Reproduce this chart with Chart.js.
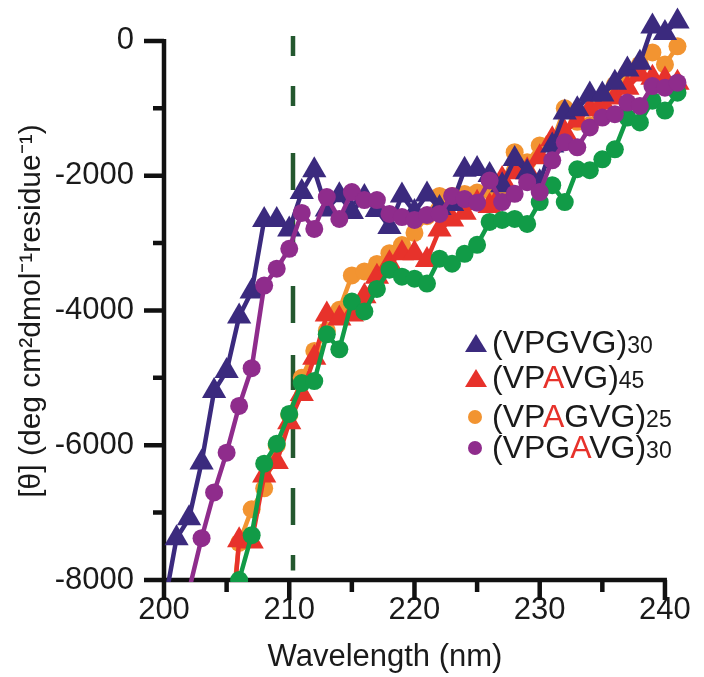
<!DOCTYPE html>
<html>
<head>
<meta charset="utf-8">
<script src="https://cdn.jsdelivr.net/npm/chart.js@4.4.1/dist/chart.umd.min.js"></script>
<style>
  body { margin: 0; background: #fff; }
  #wrap { position: relative; width: 704px; height: 677px; }
  #legend .row { position: absolute; font-family: 'Liberation Sans', Arial, sans-serif; font-size: 32px; line-height: 32px; color: #1a1a1a; white-space: nowrap; }
  #legend .row small { font-size: 23px; }
  #legend .hl { color: #e7322b; }
  #legend .tri { position: absolute; width: 0; height: 0; border-left: 11px solid transparent; border-right: 11px solid transparent; border-bottom: 18px solid; }
  #legend .dot { position: absolute; width: 14px; height: 14px; border-radius: 50%; }
</style>
</head>
<body>
<div id="wrap">
  <canvas id="cd" width="704" height="677"></canvas>
  <div id="legend"></div>
</div>
<script>
// wavelength grid (nm), one reading per nm
const wavelengths = [200, 201, 202, 203, 204, 205, 206, 207, 208, 209, 210,
  211, 212, 213, 214, 215, 216, 217, 218, 219, 220,
  221, 222, 223, 224, 225, 226, 227, 228, 229, 230,
  231, 232, 233, 234, 235, 236, 237, 238, 239, 240, 241];

// mean residue ellipticity (null = not shown)
const vpgvg30 = [-8400, -7380, -7085, -6258, -5196, -4900, -4089, -3720, -2657, -2657, -2800,
  -2243, -1920, -2500, -2290, -2540, -2317, -2510, -2760, -2292, -2540,
  -2280, -2480, -2420, -1910, -1900, -1990, -2140, -1752, -1948, -2096,
  -1550, -1063, -1014, -793, -793, -620, -423, -325, 216, 118, 290];
const vpavg45 = [null, null, null, null, null, -9550, -7410, -7430, -6450, -6250, -5660,
  -5240, -4700, -4060, -4120, -4060, -3790, -3500, -3300, -3150, -3150,
  -3250, -2800, -2650, -2550, -2400, -2450, -2050, -1950, -1920, -1727,
  -1457, -1358, -1180, -1013, -915, -841, -694, -497, -546, -571, -620];
const vpagvg25 = [null, null, null, null, null, -9200, -7450, -6950, -6640, -6000, -5550,
  -5000, -4600, -4300, -3990, -3480, -3420, -3310, -3150, -3030, -2850,
  -2600, -2300, -2300, -2270, -2250, -2220, -2150, -1650, -1800, -1550,
  -1500, -1000, -1200, -1250, -900, -650, -480, -350, -170, -350, -80];
const vpgavg30 = [null, null, -8150, -7380, -6700, -6110, -5417, -4856, -3631, -3380, -3085,
  -2553, -2790, -2317, -2642, -2243, -2362, -2362, -2568, -2613, -2657,
  -2583, -2568, -2300, -2347, -2400, -2070, -2391, -2268, -2096, -2243,
  -1771, -1505, -1579, -1284, -1137, -1087, -915, -964, -669, -694, -620];
// fifth trace (green) has no legend entry in the figure
const greenTrace = [null, null, null, null, null, null, -8000, -7335, -6273, -5978, -5535,
  -5077, -5048, -4354, -4576, -3867, -4015, -3680, -3395, -3498, -3528,
  -3601, -3232, -3306, -3159, -3026, -2686, -2657, -2642, -2716, -2391,
  -2140, -2391, -1904, -1919, -1756, -1609, -1137, -1210, -886, -1033, -768];

const markerNm = 210.3;  // dashed vertical line

const xTickLabels = [200, 210, 220, 230, 240];
const xMinorTicks = [205, 215, 225, 235];
const yTickLabels = [0, -2000, -4000, -6000, -8000];
const yMinorTicks = [-1000, -3000, -5000, -7000];

const legendNames = ['(VPGVG)', '(VPAVG)', '(VPAGVG)', '(VPGAVG)'];
const legendRepeats = ['30', '45', '25', '30'];
const legendRedLetter = [-1, 3, 3, 4];

const BLUE = '#3b2a7e', RED = '#e7322b', ORANGE = '#f29431', PURPLE = '#8f2c8c', GREEN = '#119b47';
const FONT = "'Liberation Sans', Arial, sans-serif";

function series(values) {
    return wavelengths.map((w, i) => ({ x: w, y: values[i] })).filter(p => p.y !== null);
}

function line(label, values, color, style, order) {
    return {
        label: label,
        data: series(values),
        borderColor: color,
        backgroundColor: color,
        borderWidth: 4.5,
        pointStyle: style,
        pointRadius: style === 'triangle' ? 14 : 9,
        pointBorderWidth: 0,
        tension: 0,
        order: order,
        clip: { left: 20, top: 20, right: 10, bottom: 2 }
    };
}

// axis lines, tick marks, dashed marker line and axis titles
const framePlugin = {
    id: 'frame',
    beforeDatasetsDraw(chart) {
        const ctx = chart.ctx;
        const x = chart.scales.x, y = chart.scales.y;
        ctx.save();

        const xd = x.getPixelForValue(markerNm);
        ctx.strokeStyle = '#24582f';
        ctx.lineWidth = 4.5;
        ctx.setLineDash([20, 30, 20, 47, 37, 30, 36, 30, 37, 32, 35, 33, 35, 30, 37, 30, 18]);
        ctx.beginPath();
        ctx.moveTo(xd, y.getPixelForValue(75));
        ctx.lineTo(xd, y.getPixelForValue(-7860));
        ctx.stroke();
        ctx.setLineDash([]);

        const x0 = x.getPixelForValue(200), x1 = x.getPixelForValue(240);
        const y0 = y.getPixelForValue(0), y1 = y.getPixelForValue(-8000);
        ctx.strokeStyle = '#111';
        ctx.lineWidth = 4.5;
        ctx.beginPath();
        ctx.moveTo(x0, y0 - 2); ctx.lineTo(x0, y1 + 2);
        ctx.moveTo(x0 - 2, y1); ctx.lineTo(x1 + 2, y1);
        yTickLabels.forEach(v => { const p = y.getPixelForValue(v); ctx.moveTo(x0, p); ctx.lineTo(x0 - 20, p); });
        yMinorTicks.forEach(v => { const p = y.getPixelForValue(v); ctx.moveTo(x0, p); ctx.lineTo(x0 - 11, p); });
        xTickLabels.forEach(v => { const p = x.getPixelForValue(v); ctx.moveTo(p, y1); ctx.lineTo(p, y1 + 20); });
        xMinorTicks.forEach(v => { const p = x.getPixelForValue(v); ctx.moveTo(p, y1); ctx.lineTo(p, y1 + 12); });
        ctx.stroke();
        ctx.restore();
    },
    afterDraw(chart) {
        const ctx = chart.ctx;
        ctx.save();
        ctx.fillStyle = '#1a1a1a';
        ctx.textAlign = 'center';
        ctx.textBaseline = 'middle';
        ctx.font = '31px ' + FONT;
        ctx.fillText('Wavelength (nm)', 385, 657);
        ctx.translate(32, 311);
        ctx.rotate(-Math.PI / 2);
        ctx.font = '30px ' + FONT;
        ctx.fillText('[\u03b8] (deg cm\u00b2dmol\u207b\u00b9residue\u207b\u00b9)', 0, 0);
        ctx.restore();
    }
};

new Chart(document.getElementById('cd'), {
    type: 'line',
    data: {
        datasets: [
            line('(VPGVG)30', vpgvg30, BLUE, 'triangle', 3),
            line('(VPAVG)45', vpavg45, RED, 'triangle', 4),
            line('(VPAGVG)25', vpagvg25, ORANGE, 'circle', 5),
            line('(VPGAVG)30', vpgavg30, PURPLE, 'circle', 1),
            line('', greenTrace, GREEN, 'circle', 2)
        ]
    },
    options: {
        responsive: false,
        animation: false,
        devicePixelRatio: 1,
        layout: { padding: { top: 11, right: 4, left: 0, bottom: 0 } },
        plugins: { legend: { display: false }, tooltip: { enabled: false } },
        scales: {
            x: {
                type: 'linear',
                min: 200,
                max: 242,
                grid: { display: false, drawTicks: false },
                border: { display: false },
                ticks: { font: { family: FONT, size: 31 }, color: '#1a1a1a', padding: 12, maxRotation: 0, autoSkip: false, callback: v => String(v) },
                afterBuildTicks: s => { s.ticks = xTickLabels.map(v => ({ value: v })); },
                afterFit: s => { s.height = 97; s.paddingLeft = 0; s.paddingRight = 0; }
            },
            y: {
                min: -8000,
                max: 400,
                grid: { display: false, drawTicks: false },
                border: { display: false },
                ticks: { font: { family: FONT, size: 31 }, color: '#1a1a1a', padding: 30, autoSkip: false, callback: v => String(v) },
                afterBuildTicks: s => { s.ticks = yTickLabels.map(v => ({ value: v })); },
                afterFit: s => { s.width = 164; s.paddingTop = 0; s.paddingBottom = 0; }
            }
        }
    },
    plugins: [framePlugin]
});

// legend with the substituted residue in red and the repeat count set small
const legend = document.getElementById('legend');
const legendColors = [BLUE, RED, ORANGE, PURPLE];
const legendShapes = ['tri', 'tri', 'dot', 'dot'];
const rowBaselines = [353, 388, 427, 458];
legendNames.forEach((name, i) => {
    const mark = document.createElement('div');
    mark.className = legendShapes[i];
    if (legendShapes[i] === 'tri') {
        mark.style.borderBottomColor = legendColors[i];
        mark.style.left = '465px';
        mark.style.top = (rowBaselines[i] - 19) + 'px';
    } else {
        mark.style.background = legendColors[i];
        mark.style.left = '468px';
        mark.style.top = (rowBaselines[i] - 17) + 'px';
    }
    legend.appendChild(mark);

    const row = document.createElement('div');
    row.className = 'row';
    row.style.left = '492px';
    row.style.top = (rowBaselines[i] - 27) + 'px';
    const k = legendRedLetter[i];
    let html = '';
    for (let c = 0; c < name.length; c++) {
        html += c === k ? '<span class="hl">' + name[c] + '</span>' : name[c];
    }
    row.innerHTML = html + '<small>' + legendRepeats[i] + '</small>';
    legend.appendChild(row);
});
</script>
</body>
</html>
